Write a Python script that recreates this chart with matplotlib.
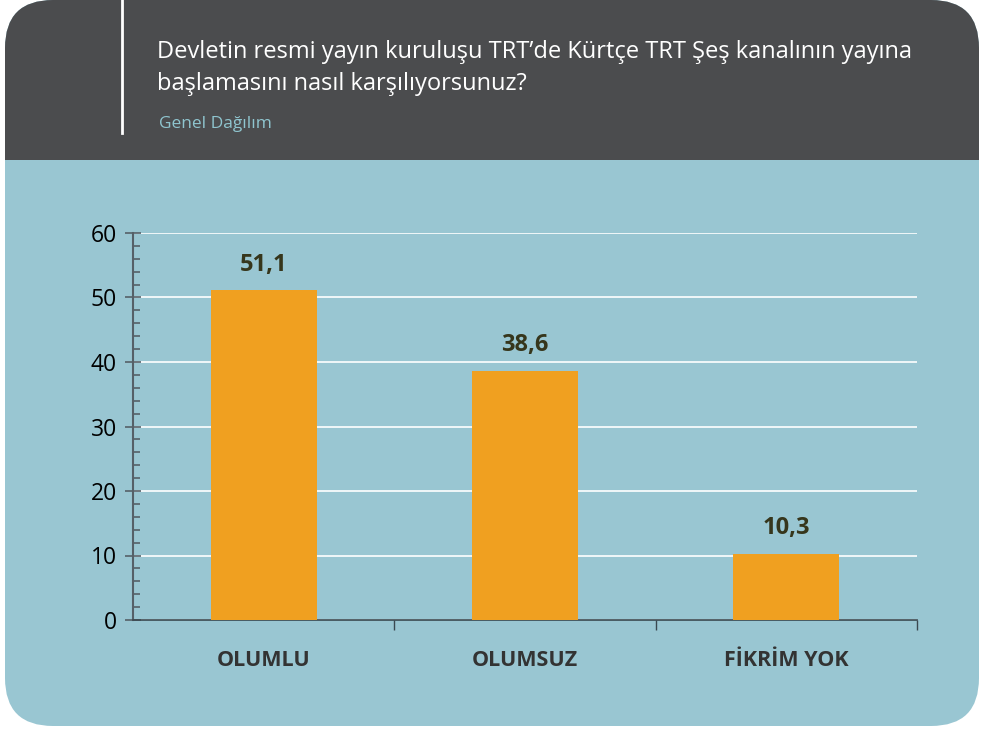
import matplotlib
matplotlib.use("Agg")
import matplotlib.pyplot as plt
from matplotlib.patches import FancyBboxPatch, Rectangle
from matplotlib.ticker import MultipleLocator

categories = ["OLUMLU", "OLUMSUZ", "FİKRİM YOK"]
values = [51.1, 38.6, 10.3]
value_labels = ["51,1", "38,6", "10,3"]
yticks = [0, 10, 20, 30, 40, 50, 60]

title = "Devletin resmi yayın kuruluşu TRT’de Kürtçe TRT Şeş kanalının yayına\nbaşlamasını nasıl karşılıyorsunuz?"
subtitle = "Genel Dağılım"

dark = "#4b4c4e"
blue = "#99c6d2"
orange = "#f0a020"

plt.rcParams['font.family'] = ['Open Sans', 'DejaVu Sans']

fig = plt.figure(figsize=(9.81, 7.29), dpi=100)
fig.patch.set_facecolor("white")

# background panel in pixel coords
bg = fig.add_axes([0, 0, 1, 1])
bg.set_xlim(0, 981)
bg.set_ylim(729, 0)
bg.axis("off")
panel = FancyBboxPatch((5, 0), 974, 726, boxstyle="round,pad=0,rounding_size=48",
                       facecolor=blue, edgecolor="none")
bg.add_patch(panel)
top = Rectangle((0, -5), 981, 165, facecolor=dark, edgecolor="none")
bg.add_patch(top)
top.set_clip_path(panel)
bg.plot([122, 122], [0, 133], color="white", lw=2)
bg.text(157, 40, title, color="white", fontsize=17, va="top",
        linespacing=1.45)
bg.text(159, 124, subtitle, color="#8fc5cf", fontsize=12.5, va="center")

# chart
ax = fig.add_axes([133/981, 109/729, 784/981, 387/729])
ax.set_facecolor("none")
x = range(len(categories))
ax.bar(x, values, width=0.405, color=orange, zorder=3)
for xi, v, lab in zip(x, values, value_labels):
    ax.annotate(lab, (xi, v), xytext=(0, 10), textcoords="offset points",
                ha="center", va="bottom", fontsize=17, fontweight="bold",
                color="#36361c")

ax.set_xlim(-0.5, 2.5)
ax.set_ylim(0, 60)
ax.set_yticks(yticks)
ax.yaxis.set_minor_locator(MultipleLocator(2))
ax.grid(axis="y", color="white", lw=1.2, zorder=1)
ax.set_axisbelow(True)
for s in ["top", "right"]:
    ax.spines[s].set_visible(False)
ax.spines["left"].set_color("#556068")
ax.spines["left"].set_linewidth(1.5)
ax.spines["bottom"].set_color("#3a4850")
ax.spines["bottom"].set_linewidth(1.2)
ax.tick_params(axis="y", which="major", direction="inout", length=11,
               width=1.2, color="#556068", labelsize=16.5, pad=6)
ax.tick_params(axis="y", which="minor", direction="in", length=5,
               width=1.2, color="#556068")

ax.set_xticks([0.5, 1.5, 2.5])
ax.set_xticklabels([])
ax.tick_params(axis="x", which="major", direction="out", length=7,
               width=1, color="#3a4850")
for xi, c in zip(x, categories):
    ax.text(xi, -6.3, c, ha="center", va="center", fontsize=15.5,
            fontweight="bold", color="#333333")

fig.savefig("out.png", dpi=100)
